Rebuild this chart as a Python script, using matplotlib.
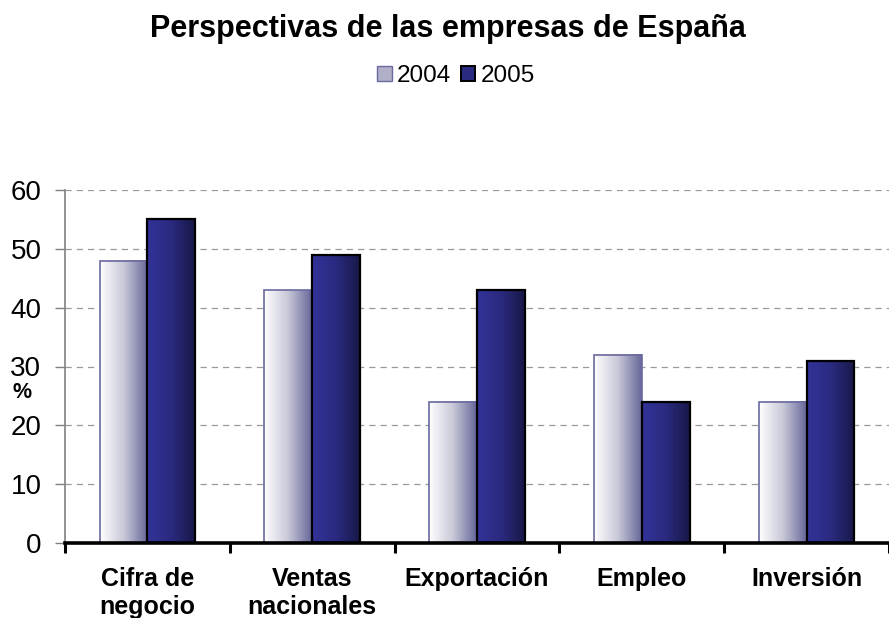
import numpy as np
import matplotlib
matplotlib.use("Agg")
import matplotlib.pyplot as plt
from matplotlib.patches import Rectangle
from matplotlib.colors import LinearSegmentedColormap

plt.rcParams['font.family'] = ['Liberation Sans', 'DejaVu Sans']

categories = ["Cifra de\nnegocio", "Ventas\nnacionales", "Exportación", "Empleo", "Inversión"]
series_names = ["2004", "2005"]
values_2004 = [48, 43, 24, 32, 24]
values_2005 = [55, 49, 43, 24, 31]
yticks = [0, 10, 20, 30, 40, 50, 60]

cmap_2004 = LinearSegmentedColormap.from_list("g2004", ["#ffffff", "#c8c8d8", "#66669a"])
cmap_2005 = LinearSegmentedColormap.from_list("g2005", ["#333399", "#2a2a80", "#181848"])

fig = plt.figure(figsize=(8.89, 6.18), dpi=100)
ax = fig.add_axes([65 / 889, 75 / 618, (889 - 65) / 889, 353 / 618])

width = 0.29
x = np.arange(len(categories))
grad = np.linspace(0, 1, 256).reshape(1, -1)

def gradient_bars(xs, heights, cmap, edge, lw):
    for xc, h in zip(xs, heights):
        x0, x1 = xc - width / 2, xc + width / 2
        ax.imshow(grad, cmap=cmap, extent=(x0, x1, 0, h), aspect='auto',
                  interpolation='bilinear', zorder=3)
        ax.add_patch(Rectangle((x0, 0), width, h, fill=False, edgecolor=edge,
                               linewidth=lw, zorder=4))

gradient_bars(x - width / 2, values_2004, cmap_2004, "#6a6aa0", 1.2)
gradient_bars(x + width / 2, values_2005, cmap_2005, "#000000", 1.6)

ax.set_xlim(-0.5, -0.5 + (889 - 65) / 166.7)
ax.set_ylim(0, 60)
ax.set_yticks(yticks)
ax.set_yticklabels([str(v) for v in yticks], fontsize=20)
ax.yaxis.grid(True, linestyle=(0, (5, 4)), color="#999999", linewidth=0.9, zorder=0)
ax.set_axisbelow(True)

ax.set_xticks(np.arange(-0.5, len(categories), 1.0))
ax.set_xticklabels([])
ax.set_xticks(x, minor=True)
ax.set_xticklabels(categories, minor=True, fontsize=18, fontweight='bold', linespacing=1.25)
ax.tick_params(axis='x', which='minor', length=0, pad=17)
ax.tick_params(axis='x', which='major', length=7, width=2.2, color='black', direction='out')
ax.tick_params(axis='y', length=7, width=1, color='#808080', direction='out', pad=10)

for s in ['top', 'right']:
    ax.spines[s].set_visible(False)
ax.spines['left'].set_color('#808080')
ax.spines['left'].set_linewidth(1.2)
ax.spines['bottom'].set_color('black')
ax.spines['bottom'].set_linewidth(2.6)
ax.spines['bottom'].set_zorder(5)

fig.text(22 / 889, 1 - 392 / 618, "%", fontsize=15.5, fontweight='bold', ha='center', va='center')

fig.text(448 / 889, 1 - 29 / 618, "Perspectivas de las empresas de España",
         fontsize=22, fontweight='bold', ha='center', va='center')

handles = [Rectangle((0, 0), 1, 1, facecolor="#b0b0c8", edgecolor="#6a6aa0", linewidth=1.0),
           Rectangle((0, 0), 1, 1, facecolor="#2a2a80", edgecolor="#000000", linewidth=1.4)]
fig.legend(handles, series_names, loc='center', bbox_to_anchor=(456 / 889, 1 - 76 / 618),
           ncol=2, frameon=False, fontsize=17.5, handlelength=0.6, handleheight=0.6,
           handletextpad=0.2, columnspacing=0.4, borderpad=0.1)

fig.savefig("out.png", dpi=100)
